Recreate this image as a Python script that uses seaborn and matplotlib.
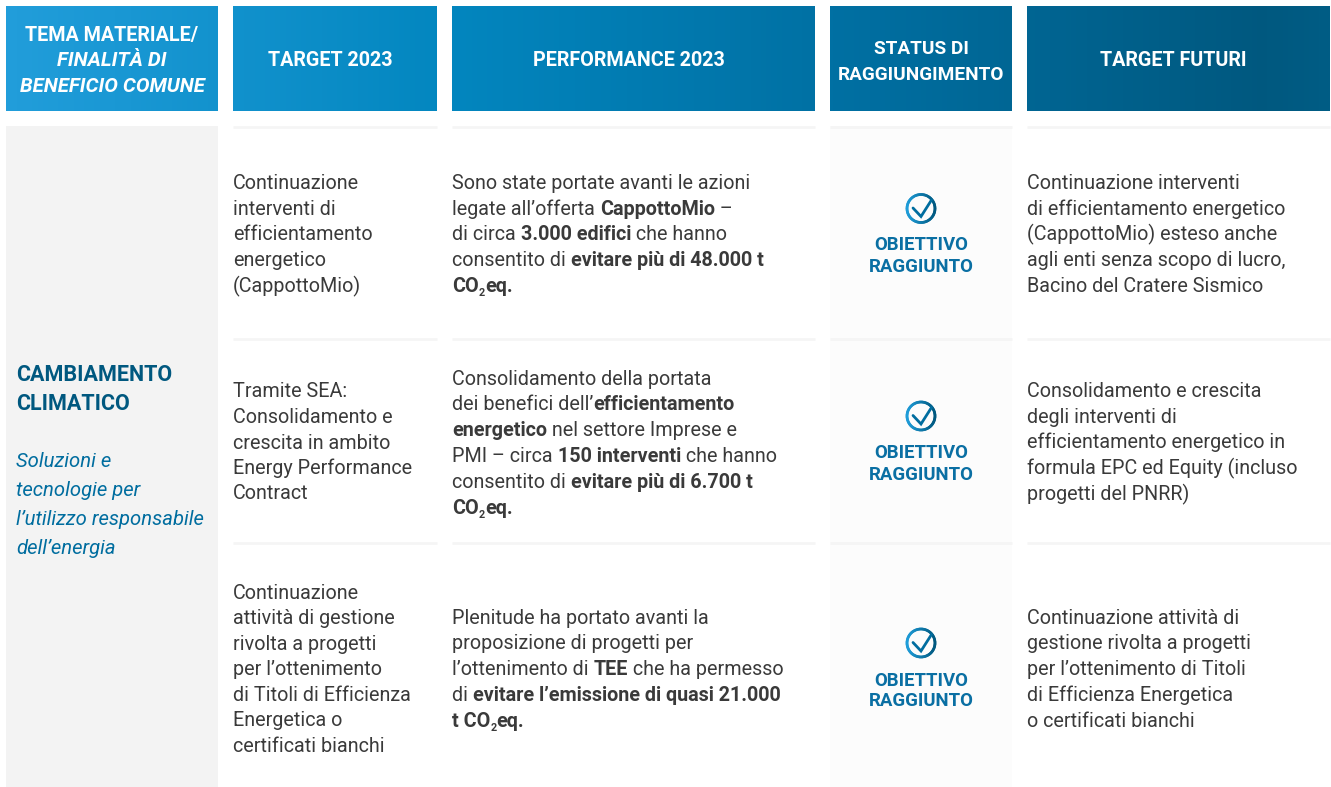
import re
import numpy as np
import seaborn as sns
import matplotlib.pyplot as plt
from matplotlib.colors import LinearSegmentedColormap

sns.set_theme(style='white')
plt.rcParams['font.family'] = ['Roboto', 'DejaVu Sans']

headers = [
    ['**TEMA MATERIALE/**', '//FINALITÀ DI', '//BENEFICIO COMUNE'],
    ['**TARGET 2023**'],
    ['**PERFORMANCE 2023**'],
    ['**STATUS DI**', '**RAGGIUNGIMENTO**'],
    ['**TARGET FUTURI**'],
]
tema = ['CAMBIAMENTO', 'CLIMATICO']
finalita = ['Soluzioni e', 'tecnologie per', 'l’utilizzo responsabile', 'dell’energia']
target_2023 = [
    ['Continuazione', 'interventi di', 'efficientamento', 'energetico', '(CappottoMio)'],
    ['Tramite SEA:', 'Consolidamento e', 'crescita in ambito', 'Energy Performance', 'Contract'],
    ['Continuazione', 'attività di gestione', 'rivolta a progetti', 'per l’ottenimento',
     'di Titoli di Efficienza', 'Energetica o', 'certificati bianchi'],
]
performance = [
    ['Sono state portate avanti le azioni', 'legate all’offerta **CappottoMio** –',
     'di circa **3.000 edifici** che hanno', 'consentito di **evitare più di 48.000 t**',
     '**CO~2~eq.**'],
    ['Consolidamento della portata', 'dei benefici dell’**efficientamento**',
     '**energetico** nel settore Imprese e', 'PMI – circa **150 interventi** che hanno',
     'consentito di **evitare più di 6.700 t**', '**CO~2~eq.**'],
    ['Plenitude ha portato avanti la', 'proposizione di progetti per',
     'l’ottenimento di **TEE** che ha permesso', 'di **evitare l’emissione di quasi 21.000**',
     '**t CO~2~eq.**'],
]
status = ['OBIETTIVO', 'RAGGIUNTO']
target_futuri = [
    ['Continuazione interventi', 'di efficientamento energetico', '(CappottoMio) esteso anche',
     'agli enti senza scopo di lucro,', 'Bacino del Cratere Sismico'],
    ['Consolidamento e crescita', 'degli interventi di', 'efficientamento energetico in',
     'formula EPC ed Equity (incluso', 'progetti del PNRR)'],
    ['Continuazione attività di', 'gestione rivolta a progetti', 'per l’ottenimento di Titoli',
     'di Efficienza Energetica', 'o certificati bianchi'],
]

W, H = 1331, 787
cols = [(6, 218), (233, 437), (452, 815), (830, 1012), (1027, 1330)]
head_cx = [112, 330, 628.5, 921, 1173]
head_sizes = [14.2, 14.2, 14.2, 13.7, 14.2]
body_fs = 14.2
dark = '#3a3a3a'
blue = '#00587f'

fig = plt.figure(figsize=(W / 100, H / 100), dpi=100)

# header gradient goes through heatmap
grad_cm = LinearSegmentedColormap.from_list('head', [(0, '#219dda'), (0.33, '#0286bf'),
                                                     (0.66, '#006d9f'), (0.95, '#00587f'),
                                                     (1, '#005c84')])
head_ax = fig.add_axes([6 / W, 1 - 111 / H, (1330 - 6) / W, 105 / H])
grad = np.linspace(0, 1, 1324).reshape(1, -1)
mask = np.ones_like(grad, dtype=bool)
for x0, x1 in cols:
    mask[0, x0 - 6:x1 - 6] = False
sns.heatmap(grad, mask=mask, cmap=grad_cm, vmin=0, vmax=1, cbar=False,
            xticklabels=False, yticklabels=False, ax=head_ax)
head_ax.patch.set_alpha(0)

ax = fig.add_axes([0, 0, 1, 1], zorder=5)
ax.set_xlim(0, W)
ax.set_ylim(H, 0)
ax.axis('off')
ax.fill_between([830, 1012], 126, 787, color='#fcfcfc', lw=0)
ax.fill_between([6, 218], 126, 787, color='#f3f3f3', lw=0)
for y in [127, 339, 543]:
    for x0, x1 in cols[1:]:
        ax.plot([x0, x1], [y, y], color='#f5f5f5', lw=2, solid_capstyle='butt')

renderer = fig.canvas.get_renderer()


def run_width(s, **kw):
    t = ax.text(0, 0, s + '.', **kw)
    w = t.get_window_extent(renderer).width
    t.set_text('.')
    w -= t.get_window_extent(renderer).width
    t.remove()
    return w


def split_runs(line):
    runs = []
    if line.startswith('//'):
        return [(line[2:], 'bold', 'italic', False)]
    for i, part in enumerate(re.split(r'\*\*', line)):
        wt = 'bold' if i % 2 else 'normal'
        for j, sub in enumerate(part.split('~')):
            if sub:
                runs.append((sub, wt, 'normal', j % 2 == 1))
    return runs


def draw_line(x, y, line, fs, color, center=False):
    runs = split_runs(line)
    sizes = []
    for s, wt, st, sub in runs:
        size = fs * 0.55 if sub else fs
        if st == 'italic':
            size = fs * 1.03
        sizes.append(size)
    widths = [run_width(r[0], fontsize=z, fontweight=r[1], fontstyle=r[2])
              for r, z in zip(runs, sizes)]
    if center:
        x -= sum(widths) / 2
    for (s, wt, st, sub), z, w in zip(runs, sizes, widths):
        ax.text(x, y + (4 if sub else 0), s, fontsize=z, color=color,
                fontweight=wt, fontstyle=st, va='baseline', ha='left')
        x += w


def draw_block(x, ys, lines, fs=body_fs, color=dark):
    for y, line in zip(ys, lines):
        draw_line(x, y + 7, line, fs, color)


# headers
head_ys = [[33, 59, 85], [59], [59], [46, 72], [59]]
for cx, size, lines, ys in zip(head_cx, head_sizes, headers, head_ys):
    for line, y in zip(lines, ys):
        draw_line(cx, y + 7.5, line, size, 'white', center=True)

# left column
for y, s in zip([381, 410], tema):
    ax.text(16.5, y, s, fontsize=15.5, fontweight='bold', color=blue, va='baseline')
for y, s in zip([467, 496, 525, 554], finalita):
    ax.text(16.5, y, s, fontsize=14.6, fontstyle='italic', color='#006d9f', va='baseline')

# body columns
draw_block(233, [182, 208, 233, 259, 285], target_2023[0])
draw_block(233, [390, 416, 442, 467, 492], target_2023[1])
draw_block(233, [592, 617, 643, 668, 694, 719, 745], target_2023[2])
draw_block(452, [182, 208, 233, 259, 285], performance[0])
draw_block(452, [378, 403, 429, 455, 481, 507], performance[1])
draw_block(452, [617, 642, 668, 694, 720], performance[2])
draw_block(1027, [182, 208, 233, 259, 285], target_futuri[0])
draw_block(1027, [390, 416, 441, 467, 493], target_futuri[1])
draw_block(1027, [617, 642, 668, 694, 720], target_futuri[2])

# status icons
icon_cm = LinearSegmentedColormap.from_list('icon', ['#1f9dd9', '#00587f'])
for cy, ty in zip([208.5, 416, 643], [[245, 267], [453, 474], [680, 701]]):
    ang = np.linspace(0, 2 * np.pi, 61)
    px, py = 921 + 14 * np.cos(ang), cy + 14 * np.sin(ang)
    for i in range(60):
        ax.plot(px[i:i + 2], py[i:i + 2], color=icon_cm((px[i] - 907) / 28), lw=2.0,
                solid_capstyle='round')
    ax.plot([913, 921, 931.5], [cy - 0.5, cy + 8, cy - 8.5], color='#006d9f', lw=2.0,
            solid_joinstyle='miter')
    for y, s in zip(ty, status):
        ax.text(921, y + 5.5, s, fontsize=13.4, fontweight='bold', color='#0a6fa3',
                ha='center', va='baseline')

fig.savefig('out.png', dpi=100)
